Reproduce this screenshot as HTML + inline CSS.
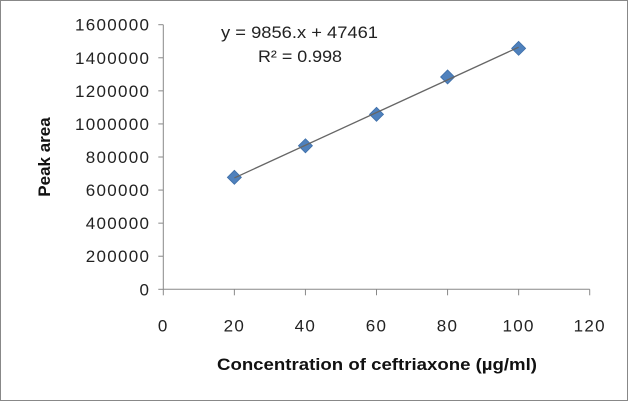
<!DOCTYPE html>
<html><head><meta charset="utf-8"><style>
html,body{margin:0;padding:0;background:#fff}
svg{display:block;font-family:"Liberation Sans",sans-serif}
</style></head><body>
<svg width="628" height="401" viewBox="0 0 628 401">
<rect x="0.5" y="0.5" width="627" height="400" fill="#fff" stroke="#888"/>
<g id="axes"></g>
<g id="marks"></g>
<text x="221" y="38" font-size="17" fill="#222" textLength="157" lengthAdjust="spacingAndGlyphs">y = 9856.x + 47461</text>
<text x="258" y="62" font-size="17" fill="#222" textLength="84" lengthAdjust="spacingAndGlyphs">R² = 0.998</text>
<text transform="translate(50,157) rotate(-90)" font-size="17" font-weight="bold" fill="#111" text-anchor="middle">Peak area</text>
<text x="217" y="370" font-size="17" font-weight="bold" fill="#111" textLength="320" lengthAdjust="spacingAndGlyphs">Concentration of ceftriaxone (µg/ml)</text>
</svg>
<script>
const xValues=[20,40,60,80,100];
const yValues=[677000,868000,1058000,1284000,1457000];
const xTicks=[0,20,40,60,80,100,120];
const yTicks=[0,200000,400000,600000,800000,1000000,1200000,1400000,1600000];
const NS="http://www.w3.org/2000/svg";
const X0=163.3,X1=589.7,Y0=289.3,Y1=24.7;
const sx=v=>X0+(v-0)/120*(X1-X0);
const sy=v=>Y0-(v/1600000)*(Y0-Y1);
function mk(t,a,p){const e=document.createElementNS(NS,t);for(const k in a)e.setAttribute(k,a[k]);p.appendChild(e);return e;}
const ax=document.getElementById('axes'),mg=document.getElementById('marks');
let l=mk('line',{x1:X0,y1:Y1,x2:X0,y2:Y0,stroke:'#888'},ax);


l=mk('line',{x1:X0,y1:Y0,x2:X1,y2:Y0,stroke:'#888'},ax);


yTicks.forEach(v=>{const y=sy(v);
const t=mk('line',{x1:X0-5,y1:y,x2:X0,y2:y,stroke:'#888'},ax);


const tx=mk('text',{x:X0-13,y:y+6,'font-size':17,fill:'#222','text-anchor':'end','letter-spacing':1.3},ax);tx.textContent=v;

});
xTicks.forEach(v=>{const x=sx(v);
const t=mk('line',{x1:x,y1:Y0,x2:x,y2:Y0+6,stroke:'#888'},ax);


const tx=mk('text',{x:x,y:Y0+42,'font-size':17,fill:'#222','text-anchor':'middle','letter-spacing':1.3},ax);tx.textContent=v;

});
const n=xValues.length,mx=xValues.reduce((a,b)=>a+b)/n,my=yValues.reduce((a,b)=>a+b)/n;
let sxy=0,sxx=0;for(let i=0;i<n;i++){sxy+=(xValues[i]-mx)*(yValues[i]-my);sxx+=(xValues[i]-mx)**2;}
const m=sxy/sxx,b=my-m*mx,xa=Math.min(...xValues),xb=Math.max(...xValues);
xValues.forEach((xv,i)=>{const x=sx(xv),y=sy(yValues[i]),r=7;
const p=mk('polygon',{points:`${x},${y-r} ${x+r},${y} ${x},${y+r} ${x-r},${y}`,fill:'#4f81bd',stroke:'#3d6ea8','stroke-width':0.8},mg);

});
const tl=mk('line',{x1:sx(xa),y1:sy(m*xa+b),x2:sx(xb),y2:sy(m*xb+b),stroke:'#666','stroke-width':1.3},mg);


</script>
</body></html>
